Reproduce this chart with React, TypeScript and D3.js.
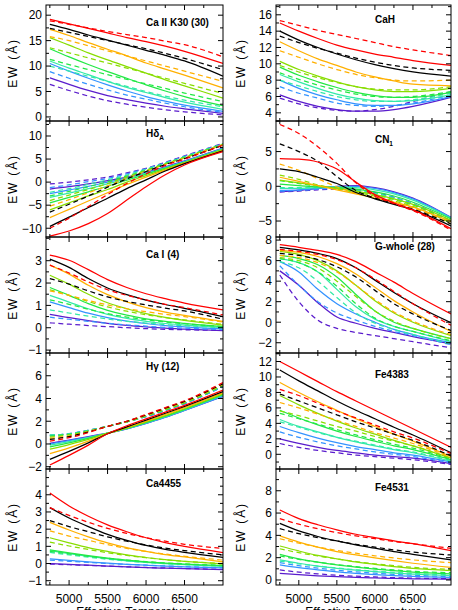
import React from "react";
import * as d3 from "d3";

// Effective temperature sample points (K)
const TEFF = [4750, 5000, 5250, 5500, 5750, 6000, 6250, 6500, 7000];
const X_MAJOR = [5000, 5500, 6000, 6500];
const X_MINOR = [4750, 5250, 5750, 6250, 6750];
const X_DOMAIN = [4700, 7000];

// series order: red, black, orange, chartreuse, green, aqua, blue, purple ; each solid then dashed
const SERIES_COLORS = ["#ff0000", "#000000", "#ffb000", "#88dd00", "#22e844", "#33eaa8", "#3393ff", "#5a1ccc"];

const caIIK = [
  [19.2, 18.3, 17.4, 16.5, 15.6, 14.8, 13.9, 12.9, 10.5],
  [18.9, 18.2, 17.5, 16.8, 16.2, 15.6, 14.9, 14.2, 11.8],
  [18.2, 17.2, 16.1, 15.1, 14.1, 13.1, 12.1, 11.0, 8.0],
  [17.4, 16.6, 15.8, 15.0, 14.2, 13.4, 12.5, 11.5, 9.3],
  [17.2, 16.0, 14.6, 13.3, 12.0, 10.6, 9.4, 8.2, 5.7],
  [15.8, 15.0, 14.0, 13.0, 12.0, 11.0, 10.0, 9.0, 7.0],
  [15.6, 14.1, 12.6, 11.2, 9.9, 8.6, 7.3, 6.1, 3.7],
  [13.6, 12.6, 11.6, 10.6, 9.6, 8.6, 7.6, 6.6, 4.6],
  [13.4, 11.8, 10.3, 8.9, 7.6, 6.3, 5.1, 4.0, 2.2],
  [11.3, 10.3, 9.3, 8.3, 7.4, 6.5, 5.6, 4.7, 3.0],
  [11.0, 9.6, 8.3, 7.0, 5.8, 4.8, 3.8, 2.9, 1.5],
  [10.0, 9.0, 8.0, 7.0, 6.0, 5.0, 4.1, 3.3, 2.0],
  [10.5, 9.0, 7.6, 6.3, 5.1, 4.0, 3.1, 2.3, 1.1],
  [8.9, 7.6, 6.4, 5.3, 4.3, 3.5, 2.7, 2.0, 0.9],
  [7.7, 6.4, 5.2, 4.2, 3.4, 2.7, 2.1, 1.6, 0.7],
  [6.4, 5.2, 4.1, 3.2, 2.5, 1.9, 1.4, 1.0, 0.4],
];

const caH = [
  [15.0, 14.0, 13.1, 12.3, 11.7, 11.2, 10.8, 10.4, 9.8],
  [15.3, 14.7, 14.1, 13.6, 13.1, 12.6, 12.1, 11.7, 11.0],
  [14.0, 12.9, 12.0, 11.2, 10.5, 9.9, 9.4, 9.0, 8.5],
  [13.4, 12.6, 11.9, 11.3, 10.7, 10.2, 9.8, 9.5, 9.2],
  [12.7, 11.6, 10.6, 9.8, 9.0, 8.4, 7.9, 7.5, 7.3],
  [11.6, 10.8, 10.0, 9.3, 8.7, 8.3, 8.0, 7.9, 8.0],
  [10.3, 9.3, 8.5, 7.8, 7.2, 6.8, 6.6, 6.6, 7.0],
  [9.8, 9.0, 8.3, 7.7, 7.2, 6.9, 6.8, 6.8, 7.2],
  [9.6, 8.6, 7.8, 7.1, 6.5, 6.1, 5.9, 5.9, 6.5],
  [8.9, 8.1, 7.4, 6.8, 6.3, 6.0, 5.9, 6.0, 6.6],
  [8.7, 7.8, 7.0, 6.3, 5.8, 5.5, 5.4, 5.5, 6.2],
  [8.0, 7.3, 6.6, 6.0, 5.6, 5.4, 5.4, 5.6, 6.4],
  [8.0, 7.0, 6.2, 5.6, 5.1, 4.9, 4.9, 5.1, 6.0],
  [7.2, 6.4, 5.8, 5.2, 4.9, 4.8, 4.9, 5.2, 6.2],
  [6.2, 5.4, 4.8, 4.4, 4.2, 4.2, 4.4, 4.8, 5.9],
  [5.8, 5.1, 4.6, 4.3, 4.2, 4.4, 4.8, 5.4, 6.6],
];

const hdeltaA = [
  [-11.7, -10.6, -9.0, -6.8, -3.9, -1.0, 1.6, 3.7, 6.6],
  [-10.0, -7.8, -5.3, -2.7, -0.3, 1.8, 3.6, 5.0, 8.0],
  [-9.6, -7.6, -5.5, -3.5, -1.4, 0.5, 2.4, 4.0, 6.8],
  [-6.5, -4.8, -3.0, -1.1, 0.7, 2.3, 3.8, 5.1, 8.0],
  [-7.7, -5.9, -4.1, -2.3, -0.5, 1.1, 2.6, 4.1, 6.9],
  [-5.2, -3.8, -2.3, -0.8, 0.8, 2.3, 3.8, 5.2, 8.1],
  [-6.0, -4.5, -3.0, -1.6, 0.0, 1.4, 2.8, 4.2, 7.0],
  [-4.0, -2.8, -1.6, -0.3, 1.1, 2.5, 3.9, 5.3, 8.2],
  [-4.5, -3.3, -2.1, -0.9, 0.4, 1.7, 3.0, 4.3, 7.1],
  [-3.0, -2.0, -1.0, 0.1, 1.3, 2.6, 4.0, 5.4, 8.2],
  [-3.3, -2.4, -1.4, -0.4, 0.7, 1.9, 3.1, 4.4, 7.2],
  [-2.2, -1.4, -0.5, 0.5, 1.5, 2.8, 4.1, 5.5, 8.3],
  [-2.5, -1.7, -0.9, 0.0, 0.9, 2.0, 3.2, 4.5, 7.3],
  [-1.2, -0.6, 0.1, 0.8, 1.8, 2.9, 4.2, 5.6, 8.3],
  [-1.5, -1.0, -0.4, 0.3, 1.1, 2.1, 3.3, 4.6, 7.4],
  [-0.4, 0.0, 0.5, 1.1, 2.0, 3.0, 4.3, 5.7, 8.4],
];

const cn1 = [
  [4.0, 3.9, 3.5, 2.5, 0.6, -1.2, -2.4, -3.4, -6.1],
  [8.9, 7.6, 5.7, 3.3, 0.5, -1.4, -2.5, -3.5, -6.3],
  [2.5, 2.1, 1.3, 0.4, -0.9, -1.8, -2.6, -3.4, -5.7],
  [6.1, 5.0, 3.6, 1.4, -0.6, -1.7, -2.5, -3.3, -5.4],
  [1.3, 0.7, 0.1, -0.5, -1.1, -1.7, -2.3, -3.0, -5.1],
  [3.2, 2.3, 1.1, -0.1, -1.0, -1.6, -2.3, -3.1, -5.4],
  [0.9, 0.5, 0.1, -0.3, -0.7, -1.2, -1.8, -2.6, -4.9],
  [1.6, 1.0, 0.2, -0.4, -0.9, -1.4, -2.1, -2.9, -5.3],
  [0.3, 0.1, -0.1, -0.2, -0.4, -0.8, -1.4, -2.3, -4.7],
  [0.8, 0.4, 0.0, -0.3, -0.7, -1.2, -1.9, -2.7, -5.2],
  [-0.3, -0.3, -0.2, -0.1, -0.2, -0.5, -1.1, -2.0, -4.6],
  [-0.2, -0.2, -0.2, -0.3, -0.6, -1.0, -1.7, -2.6, -5.1],
  [-0.6, -0.5, -0.3, -0.1, 0.0, -0.3, -0.9, -1.8, -4.5],
  [-0.7, -0.6, -0.4, -0.3, -0.5, -1.0, -1.6, -2.5, -5.0],
  [-0.8, -0.6, -0.3, 0.0, 0.1, -0.2, -0.8, -1.7, -4.5],
  [-0.8, -0.7, -0.5, -0.4, -0.5, -0.9, -1.6, -2.5, -5.0],
];

const caI = [
  [3.25, 3.02, 2.6, 2.15, 1.8, 1.52, 1.3, 1.1, 0.8],
  [2.8, 2.45, 2.05, 1.7, 1.45, 1.25, 1.05, 0.9, 0.57],
  [3.07, 2.7, 2.2, 1.78, 1.48, 1.24, 1.04, 0.87, 0.5],
  [2.2, 1.95, 1.65, 1.38, 1.18, 1.02, 0.88, 0.75, 0.38],
  [2.8, 2.4, 1.9, 1.48, 1.16, 0.9, 0.7, 0.55, 0.28],
  [1.65, 1.45, 1.22, 1.02, 0.85, 0.72, 0.6, 0.5, 0.25],
  [2.35, 1.95, 1.5, 1.12, 0.85, 0.63, 0.46, 0.33, 0.12],
  [1.7, 1.45, 1.17, 0.93, 0.74, 0.58, 0.45, 0.35, 0.15],
  [1.8, 1.45, 1.08, 0.78, 0.56, 0.4, 0.28, 0.19, 0.05],
  [1.25, 1.05, 0.83, 0.63, 0.48, 0.36, 0.26, 0.18, 0.05],
  [1.45, 1.15, 0.85, 0.6, 0.42, 0.29, 0.19, 0.12, 0.0],
  [0.8, 0.66, 0.52, 0.39, 0.29, 0.21, 0.14, 0.09, 0.0],
  [1.16, 0.9, 0.65, 0.45, 0.3, 0.19, 0.1, 0.04, -0.05],
  [0.47, 0.38, 0.29, 0.2, 0.13, 0.07, 0.02, -0.02, -0.08],
  [0.6, 0.45, 0.32, 0.2, 0.11, 0.04, -0.02, -0.06, -0.13],
  [0.22, 0.16, 0.1, 0.05, 0.0, -0.04, -0.07, -0.09, -0.12],
];

const gWhole = [
  [7.55, 7.3, 7.0, 6.6, 5.9, 4.9, 3.9, 2.8, 0.8],
  [7.1, 6.9, 6.6, 6.1, 5.3, 4.2, 3.0, 1.8, -0.3],
  [7.3, 7.05, 6.7, 6.2, 5.3, 4.1, 2.9, 1.8, -0.05],
  [6.7, 6.5, 6.1, 5.4, 4.4, 3.1, 1.8, 0.8, -0.8],
  [7.0, 6.8, 6.4, 5.7, 4.7, 3.4, 2.1, 1.0, -0.9],
  [6.5, 6.3, 5.8, 4.9, 3.6, 2.2, 1.0, 0.1, -1.2],
  [6.9, 6.6, 6.0, 5.0, 3.6, 2.1, 0.9, 0.0, -1.3],
  [6.3, 6.0, 5.3, 4.0, 2.5, 1.1, 0.1, -0.6, -1.6],
  [6.5, 6.2, 5.6, 4.4, 2.7, 1.1, 0.0, -0.6, -1.6],
  [6.2, 5.8, 4.9, 3.5, 1.8, 0.4, -0.4, -0.9, -1.8],
  [6.2, 5.8, 4.9, 3.2, 1.5, 0.3, -0.4, -0.9, -1.9],
  [5.9, 5.3, 4.0, 2.4, 0.9, -0.1, -0.7, -1.2, -2.1],
  [5.9, 4.9, 3.2, 1.8, 0.8, 0.0, -0.7, -1.2, -2.0],
  [5.5, 3.6, 2.0, 0.9, 0.2, -0.4, -0.9, -1.3, -2.2],
  [5.0, 3.6, 1.9, 0.5, -0.1, -0.6, -1.0, -1.4, -2.1],
  [4.6, 2.0, 0.2, -0.6, -1.0, -1.3, -1.6, -1.9, -2.5],
];

const hgamma = [
  [-1.85, -1.0, -0.1, 0.9, 1.6, 2.2, 2.8, 3.4, 4.75],
  [0.25, 0.55, 1.0, 1.55, 2.0, 2.6, 3.2, 3.8, 5.4],
  [-1.35, -0.65, 0.1, 0.9, 1.5, 2.1, 2.7, 3.3, 4.6],
  [0.4, 0.65, 1.05, 1.55, 2.0, 2.55, 3.15, 3.75, 5.3],
  [-0.85, -0.35, 0.25, 0.9, 1.45, 2.0, 2.6, 3.2, 4.5],
  [0.5, 0.7, 1.1, 1.55, 2.0, 2.5, 3.1, 3.7, 5.25],
  [-0.45, -0.05, 0.4, 0.95, 1.4, 1.95, 2.5, 3.1, 4.4],
  [0.6, 0.8, 1.1, 1.55, 1.95, 2.5, 3.05, 3.65, 5.2],
  [-0.25, 0.1, 0.5, 0.95, 1.38, 1.9, 2.45, 3.05, 4.35],
  [0.7, 0.85, 1.15, 1.55, 1.95, 2.45, 3.0, 3.6, 5.15],
  [-0.1, 0.2, 0.55, 0.95, 1.35, 1.85, 2.4, 3.0, 4.3],
  [0.8, 0.9, 1.2, 1.55, 1.95, 2.45, 3.0, 3.6, 5.1],
  [0.0, 0.3, 0.6, 0.95, 1.33, 1.8, 2.35, 2.95, 4.2],
  [0.75, 0.9, 1.2, 1.55, 1.95, 2.4, 2.95, 3.55, 5.05],
  [0.05, 0.35, 0.65, 0.95, 1.33, 1.8, 2.35, 2.95, 4.2],
  [0.75, 0.9, 1.2, 1.55, 1.95, 2.4, 2.95, 3.55, 5.05],
];

const fe4383 = [
  [12.0, 10.7, 9.4, 8.1, 6.9, 5.7, 4.5, 3.3, 0.9],
  [8.4, 7.6, 6.6, 5.6, 4.7, 3.8, 2.9, 2.1, 0.1],
  [10.9, 9.5, 8.2, 6.9, 5.7, 4.6, 3.5, 2.5, 0.2],
  [7.8, 6.9, 6.0, 5.1, 4.2, 3.4, 2.6, 1.8, -0.2],
  [9.3, 8.0, 6.8, 5.7, 4.6, 3.6, 2.6, 1.7, -0.3],
  [6.7, 6.0, 5.2, 4.4, 3.6, 2.8, 2.1, 1.4, -0.4],
  [7.6, 6.4, 5.3, 4.3, 3.4, 2.6, 1.8, 1.1, -0.5],
  [5.6, 5.0, 4.3, 3.6, 3.0, 2.3, 1.7, 1.1, -0.5],
  [5.7, 4.7, 3.8, 3.0, 2.3, 1.7, 1.1, 0.6, -0.7],
  [5.3, 4.6, 3.9, 3.2, 2.5, 1.9, 1.3, 0.8, -0.6],
  [4.5, 3.6, 2.9, 2.2, 1.6, 1.1, 0.6, 0.2, -0.9],
  [4.2, 3.5, 2.8, 2.2, 1.7, 1.2, 0.7, 0.3, -0.8],
  [3.6, 2.8, 2.1, 1.5, 1.0, 0.6, 0.2, -0.1, -1.0],
  [2.9, 2.2, 1.6, 1.1, 0.7, 0.3, 0.0, -0.3, -1.1],
  [2.0, 1.4, 0.9, 0.5, 0.2, -0.1, -0.3, -0.5, -1.2],
  [1.4, 0.9, 0.5, 0.2, -0.1, -0.3, -0.5, -0.7, -1.3],
];

const ca4455 = [
  [4.1, 3.35, 2.75, 2.25, 1.85, 1.5, 1.22, 1.0, 0.64],
  [3.25, 2.8, 2.4, 2.05, 1.75, 1.5, 1.3, 1.12, 0.88],
  [3.25, 2.65, 2.15, 1.7, 1.35, 1.05, 0.82, 0.65, 0.35],
  [2.5, 2.15, 1.85, 1.55, 1.3, 1.08, 0.9, 0.75, 0.5],
  [2.4, 1.95, 1.55, 1.2, 0.92, 0.7, 0.52, 0.38, 0.1],
  [1.9, 1.6, 1.35, 1.1, 0.88, 0.7, 0.55, 0.42, 0.2],
  [1.5, 1.2, 0.92, 0.7, 0.5, 0.35, 0.22, 0.12, -0.02],
  [1.25, 1.02, 0.82, 0.63, 0.47, 0.34, 0.22, 0.13, 0.0],
  [0.8, 0.62, 0.46, 0.32, 0.2, 0.1, 0.02, -0.04, -0.12],
  [0.7, 0.56, 0.42, 0.3, 0.2, 0.11, 0.04, -0.02, -0.1],
  [0.75, 0.58, 0.42, 0.28, 0.16, 0.07, -0.01, -0.07, -0.16],
  [0.65, 0.5, 0.37, 0.25, 0.15, 0.06, -0.01, -0.06, -0.14],
  [0.27, 0.18, 0.1, 0.02, -0.05, -0.1, -0.15, -0.19, -0.26],
  [0.2, 0.13, 0.06, 0.0, -0.05, -0.1, -0.14, -0.18, -0.24],
  [0.0, -0.05, -0.1, -0.15, -0.2, -0.24, -0.27, -0.3, -0.36],
  [-0.03, -0.07, -0.11, -0.15, -0.19, -0.23, -0.26, -0.29, -0.34],
];

const fe4531 = [
  [6.27, 5.5, 4.95, 4.5, 4.1, 3.8, 3.5, 3.25, 2.63],
  [5.5, 5.0, 4.6, 4.25, 3.95, 3.7, 3.45, 3.25, 2.84],
  [5.07, 4.4, 3.9, 3.5, 3.15, 2.85, 2.55, 2.3, 1.8],
  [4.6, 4.15, 3.8, 3.5, 3.2, 2.95, 2.7, 2.5, 2.24],
  [3.95, 3.4, 2.95, 2.55, 2.25, 1.98, 1.73, 1.5, 1.13],
  [3.7, 3.3, 2.95, 2.65, 2.4, 2.17, 1.97, 1.8, 1.55],
  [3.05, 2.6, 2.2, 1.9, 1.62, 1.4, 1.2, 1.03, 0.84],
  [2.8, 2.45, 2.15, 1.88, 1.65, 1.45, 1.28, 1.13, 0.95],
  [2.3, 1.9, 1.6, 1.35, 1.15, 0.98, 0.83, 0.7, 0.54],
  [2.15, 1.85, 1.6, 1.38, 1.2, 1.04, 0.9, 0.78, 0.65],
  [1.8, 1.5, 1.25, 1.05, 0.88, 0.74, 0.62, 0.52, 0.4],
  [1.7, 1.45, 1.25, 1.07, 0.92, 0.79, 0.68, 0.58, 0.47],
  [1.35, 1.1, 0.9, 0.73, 0.6, 0.49, 0.4, 0.33, 0.24],
  [1.55, 1.28, 1.06, 0.88, 0.73, 0.61, 0.51, 0.42, 0.3],
  [0.6, 0.47, 0.37, 0.29, 0.23, 0.18, 0.14, 0.11, 0.08],
  [0.9, 0.7, 0.55, 0.43, 0.34, 0.27, 0.21, 0.17, 0.12],
];

// y tick labels per panel
const ticksCaIIK = [0, 5, 10, 15, 20];
const ticksCaH = [4, 6, 8, 10, 12, 14, 16];
const ticksHdelta = [-10, -5, 0, 5, 10];
const ticksCN1 = [-5, 0, 5];
const ticksCaI = [-1, 0, 1, 2, 3];
const ticksGwhole = [-2, 0, 2, 4, 6, 8];
const ticksHgamma = [-2, 0, 2, 4, 6];
const ticksFe4383 = [0, 2, 4, 6, 8, 10, 12];
const ticksCa4455 = [-1, 0, 1, 2, 3, 4];
const ticksFe4531 = [0, 2, 4, 6, 8];

const FONT = "'Liberation Sans', Arial, Helvetica, sans-serif";
const ROW_TOPS = [5, 121, 237, 353, 469, 585];
const COLS = [
  { x0: 46, x1: 223, label: 17 },
  { x0: 276, x1: 451, label: 245 },
];

type PanelDef = {
  id: string;
  col: number;
  row: number;
  rows: number[][];
  domain: [number, number];
  ticks: number[];
  minorStep: number;
  title: React.ReactNode;
  titleDy: number;
};

const panels: PanelDef[] = [
  { id: "p0", col: 0, row: 0, rows: caIIK, domain: [-0.8, 22], ticks: ticksCaIIK, minorStep: 2.5, title: "Ca II K30 (30)", titleDy: 21 },
  { id: "p1", col: 1, row: 0, rows: caH, domain: [3, 17.2], ticks: ticksCaH, minorStep: 1, title: "CaH", titleDy: 18 },
  {
    id: "p2", col: 0, row: 1, rows: hdeltaA, domain: [-11.9, 13.25], ticks: ticksHdelta, minorStep: 2.5,
    title: (<><tspan>Hδ</tspan><tspan fontSize={6.5} dy={3}>A</tspan></>), titleDy: 16,
  },
  {
    id: "p3", col: 1, row: 1, rows: cn1, domain: [-7.3, 9.4], ticks: ticksCN1, minorStep: 2.5,
    title: (<><tspan>CN</tspan><tspan fontSize={6.5} dy={3}>1</tspan></>), titleDy: 22,
  },
  { id: "p4", col: 0, row: 2, rows: caI, domain: [-1.13, 4.06], ticks: ticksCaI, minorStep: 0.5, title: "Ca I (4)", titleDy: 21 },
  { id: "p5", col: 1, row: 2, rows: gWhole, domain: [-3, 8.3], ticks: ticksGwhole, minorStep: 1, title: "G-whole (28)", titleDy: 13 },
  { id: "p6", col: 0, row: 3, rows: hgamma, domain: [-2.2, 8.0], ticks: ticksHgamma, minorStep: 1, title: "Hγ (12)", titleDy: 17 },
  { id: "p7", col: 1, row: 3, rows: fe4383, domain: [-1.9, 13.1], ticks: ticksFe4383, minorStep: 1, title: "Fe4383", titleDy: 25 },
  { id: "p8", col: 0, row: 4, rows: ca4455, domain: [-1.25, 5.5], ticks: ticksCa4455, minorStep: 0.5, title: "Ca4455", titleDy: 18 },
  { id: "p9", col: 1, row: 4, rows: fe4531, domain: [-0.45, 9.95], ticks: ticksFe4531, minorStep: 1, title: "Fe4531", titleDy: 22 },
];

function fmt(v: number) {
  return v < 0 ? "\u2212" + Math.abs(v) : String(v);
}

function Panel({ p }: { p: PanelDef }) {
  const c = COLS[p.col];
  const y0 = ROW_TOPS[p.row];
  const y1 = ROW_TOPS[p.row + 1];
  const xs = d3.scaleLinear().domain(X_DOMAIN).range([c.x0, c.x1]);
  const ys = d3.scaleLinear().domain(p.domain).range([y1, y0]);
  const line = d3
    .line<number>()
    .x((_, i) => xs(TEFF[i]))
    .y((d) => ys(d))
    .curve(d3.curveMonotoneX);

  const lo = Math.ceil(p.domain[0] / p.minorStep) * p.minorStep;
  const minorY = d3.range(lo, p.domain[1], p.minorStep).filter((v) => !p.ticks.some((t) => Math.abs(t - v) < 1e-6));
  const majorY = p.ticks.filter((t) => t > p.domain[0] && t < p.domain[1]);
  const order = d3.range(p.rows.length).reverse();
  const isBottom = p.row === 4;
  const midY = (y0 + y1) / 2;

  return (
    <g>
      <defs>
        <clipPath id={`clip-${p.id}`}>
          <rect x={c.x0} y={y0} width={c.x1 - c.x0} height={y1 - y0} />
        </clipPath>
      </defs>
      <g clipPath={`url(#clip-${p.id})`}>
        {order.map((i) => (
          <path
            key={i}
            d={line(p.rows[i]) || ""}
            fill="none"
            stroke={SERIES_COLORS[Math.floor(i / 2)]}
            strokeWidth={1.25}
            strokeDasharray={i % 2 === 1 ? "5,3.5" : undefined}
          />
        ))}
      </g>
      <rect x={c.x0} y={y0} width={c.x1 - c.x0} height={y1 - y0} fill="none" stroke="#000" strokeWidth={1} />
      {/* x ticks */}
      {X_MAJOR.map((t) => (
        <g key={`xm${t}`}>
          <line x1={xs(t)} x2={xs(t)} y1={y1} y2={y1 - 5} stroke="#000" />
          <line x1={xs(t)} x2={xs(t)} y1={y0} y2={y0 + 5} stroke="#000" />
        </g>
      ))}
      {X_MINOR.map((t) => (
        <g key={`xn${t}`}>
          <line x1={xs(t)} x2={xs(t)} y1={y1} y2={y1 - 3} stroke="#000" />
          <line x1={xs(t)} x2={xs(t)} y1={y0} y2={y0 + 3} stroke="#000" />
        </g>
      ))}
      {/* y ticks */}
      {majorY.map((t) => (
        <g key={`ym${t}`}>
          <line x1={c.x0} x2={c.x0 + 5} y1={ys(t)} y2={ys(t)} stroke="#000" />
          <line x1={c.x1} x2={c.x1 - 5} y1={ys(t)} y2={ys(t)} stroke="#000" />
          <text x={c.x0 - 4} y={ys(t)} dy="0.36em" textAnchor="end" fontSize={12} fontFamily={FONT}>
            {fmt(t)}
          </text>
        </g>
      ))}
      {minorY.map((t) => (
        <g key={`yn${t}`}>
          <line x1={c.x0} x2={c.x0 + 3} y1={ys(t)} y2={ys(t)} stroke="#000" />
          <line x1={c.x1} x2={c.x1 - 3} y1={ys(t)} y2={ys(t)} stroke="#000" />
        </g>
      ))}
      {/* title */}
      <text x={xs(6000)} y={y0 + p.titleDy} fontSize={10} fontWeight="bold" fontFamily={FONT} fill="#000">
        {p.title}
      </text>
      {/* y label */}
      <text
        transform={`translate(${c.label},${midY}) rotate(-90)`}
        textAnchor="middle"
        fontSize={12}
        letterSpacing={1.8}
        fontFamily={FONT}
      >
        EW (Å)
      </text>
      {isBottom && (
        <g>
          {X_MAJOR.map((t) => (
            <text key={`xl${t}`} x={xs(t)} y={602.5} textAnchor="middle" fontSize={12} fontFamily={FONT}>
              {t}
            </text>
          ))}
          <text x={(c.x0 + c.x1) / 2} y={615.5} textAnchor="middle" fontSize={12} fontFamily={FONT}>
            Effective Temperature
          </text>
        </g>
      )}
    </g>
  );
}

export default function App() {
  return (
    <svg
      width={458}
      height={610}
      style={{ position: "fixed", left: 0, top: 0, background: "#fff" }}
      xmlns="http://www.w3.org/2000/svg"
    >
      <rect x={0} y={0} width={458} height={610} fill="#fff" />
      {panels.map((p) => (
        <Panel key={p.id} p={p} />
      ))}
    </svg>
  );
}
